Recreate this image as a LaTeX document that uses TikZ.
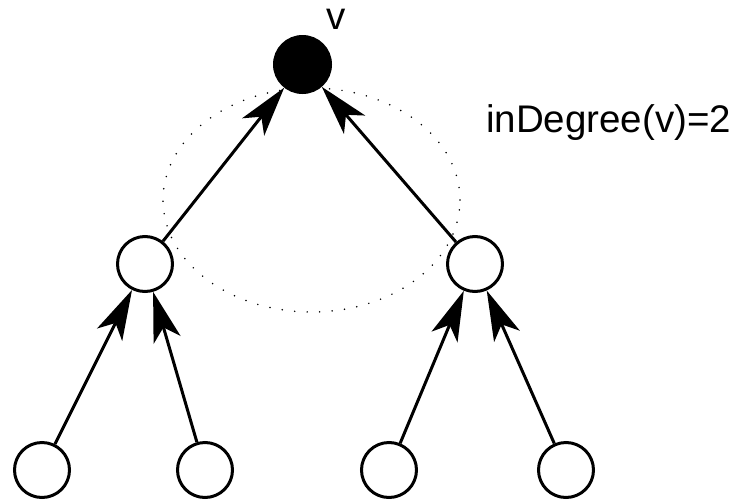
\documentclass[tikz,border=0pt]{standalone}
\usepackage{fontspec}
\setmainfont{Liberation Sans}
\usetikzlibrary{arrows.meta}
\begin{document}
\begin{tikzpicture}[x=1pt,y=-1pt,
  vert/.style={circle,draw=black,line width=3pt,fill=white,minimum size=55pt,inner sep=0pt},
  root/.style={vert,fill=black,minimum size=56pt},
  edge/.style={line width=3pt,-{Stealth[length=50pt,width=28pt,inset=13pt]}},
  lbl/.style={inner sep=0pt,font=\fontsize{38.5}{46}\selectfont}]
\useasboundingbox (0,0) rectangle (737,501);
\coordinate (ec) at (311.5,200);
\draw[line width=1.7pt,line cap=round,dash pattern=on 0pt off 12.5pt] (ec) ellipse [x radius=148.5pt,y radius=112pt];
\node[root] (v) at (302.5,64.5) {};
\node[vert] (a) at (145,264) {};
\node[vert] (b) at (475,264) {};
\node[vert] (c1) at (42,470) {};
\node[vert] (c2) at (205,470) {};
\node[vert] (c3) at (389,470) {};
\node[vert] (c4) at (566,470) {};
\node[lbl,anchor=base] (vl) at (336,29) {v};
\node[lbl,anchor=base west] (deg) at (486,132) {inDegree(v)=2};
\draw[edge] (a) -- (v);
\draw[edge] (b) -- (v);
\draw[edge] (c1) -- (a);
\draw[edge] (c2) -- (a);
\draw[edge] (c3) -- (b);
\draw[edge] (c4) -- (b);
\end{tikzpicture}
\end{document}
